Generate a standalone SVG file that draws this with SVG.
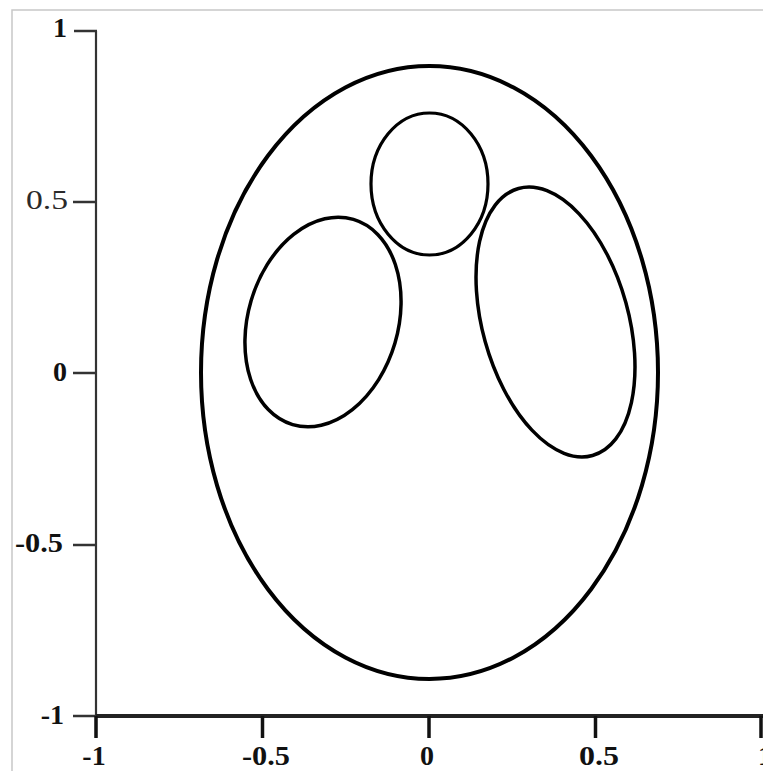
<svg xmlns="http://www.w3.org/2000/svg" width="763" height="771" viewBox="0 0 763 771">
  <style>
    .lbl { font-family: "Liberation Serif", "Times New Roman", serif; font-size: 28px; fill: #2a2a2a; }
    .b { font-weight: bold; fill: #111; }
    .ytick { stroke: #333; stroke-width: 2.5; }
    .xtick { stroke: #111; stroke-width: 3.5; }
    .shape { fill: none; stroke: #000; }
  </style>
  <rect x="12" y="10" width="770" height="780" fill="#fff" stroke="#c8c8c8" stroke-width="1.5"/>
  <g id="axes">
    <line x1="96" y1="31" x2="96" y2="737" stroke="#333" stroke-width="2.2"/>
    <line x1="96" y1="716" x2="763" y2="716" stroke="#222" stroke-width="4"/>
    <line class="ytick" x1="74" y1="31" x2="97" y2="31" stroke-width="3.5"/>
    <line class="ytick" x1="73" y1="202" x2="96" y2="202"/>
    <line class="ytick" x1="73" y1="373" x2="96" y2="373"/>
    <line class="ytick" x1="73" y1="545" x2="96" y2="545"/>
    <line class="ytick" x1="73" y1="716" x2="96" y2="716"/>
    <line class="xtick" x1="96" y1="716" x2="96" y2="738"/>
    <line class="xtick" x1="262.5" y1="716" x2="262.5" y2="738"/>
    <line class="xtick" x1="429" y1="716" x2="429" y2="738"/>
    <line class="xtick" x1="595.5" y1="716" x2="595.5" y2="738"/>
    <line class="xtick" x1="761" y1="716" x2="761" y2="738"/>
  </g>
  <g id="y-labels">
    <text class="lbl b" x="67" y="37" text-anchor="end">1</text>
    <text class="lbl" x="68" y="209" text-anchor="end" textLength="42" lengthAdjust="spacingAndGlyphs">0.5</text>
    <text class="lbl b" x="67" y="381" text-anchor="end">0</text>
    <text class="lbl b" x="63" y="552" text-anchor="end" textLength="48" lengthAdjust="spacingAndGlyphs">-0.5</text>
    <text class="lbl b" x="64" y="724" text-anchor="end">-1</text>
  </g>
  <g id="x-labels">
    <text class="lbl b" x="94" y="765" text-anchor="middle">-1</text>
    <text class="lbl b" x="266" y="765" text-anchor="middle" textLength="48" lengthAdjust="spacingAndGlyphs">-0.5</text>
    <text class="lbl b" x="427" y="765" text-anchor="middle">0</text>
    <text class="lbl b" x="599" y="765" text-anchor="middle" textLength="40" lengthAdjust="spacingAndGlyphs">0.5</text>
    <text class="lbl b" x="758" y="765" text-anchor="start">1</text>
  </g>
  <g id="outer-ellipse">
    <ellipse class="shape" cx="429.5" cy="372.5" rx="228.5" ry="306.5" stroke-width="4"/>
  </g>
  <g id="top-ellipse">
    <ellipse class="shape" cx="429.5" cy="184" rx="58.5" ry="71" stroke-width="3.2"/>
  </g>
  <g id="left-ellipse">
    <ellipse class="shape" cx="0" cy="0" rx="75" ry="107" stroke-width="3.5" transform="translate(323 322) rotate(16.5)"/>
  </g>
  <g id="right-ellipse">
    <ellipse class="shape" cx="0" cy="0" rx="73" ry="138.5" stroke-width="3.5" transform="translate(555.5 322) rotate(-15.5)"/>
  </g>
</svg>
